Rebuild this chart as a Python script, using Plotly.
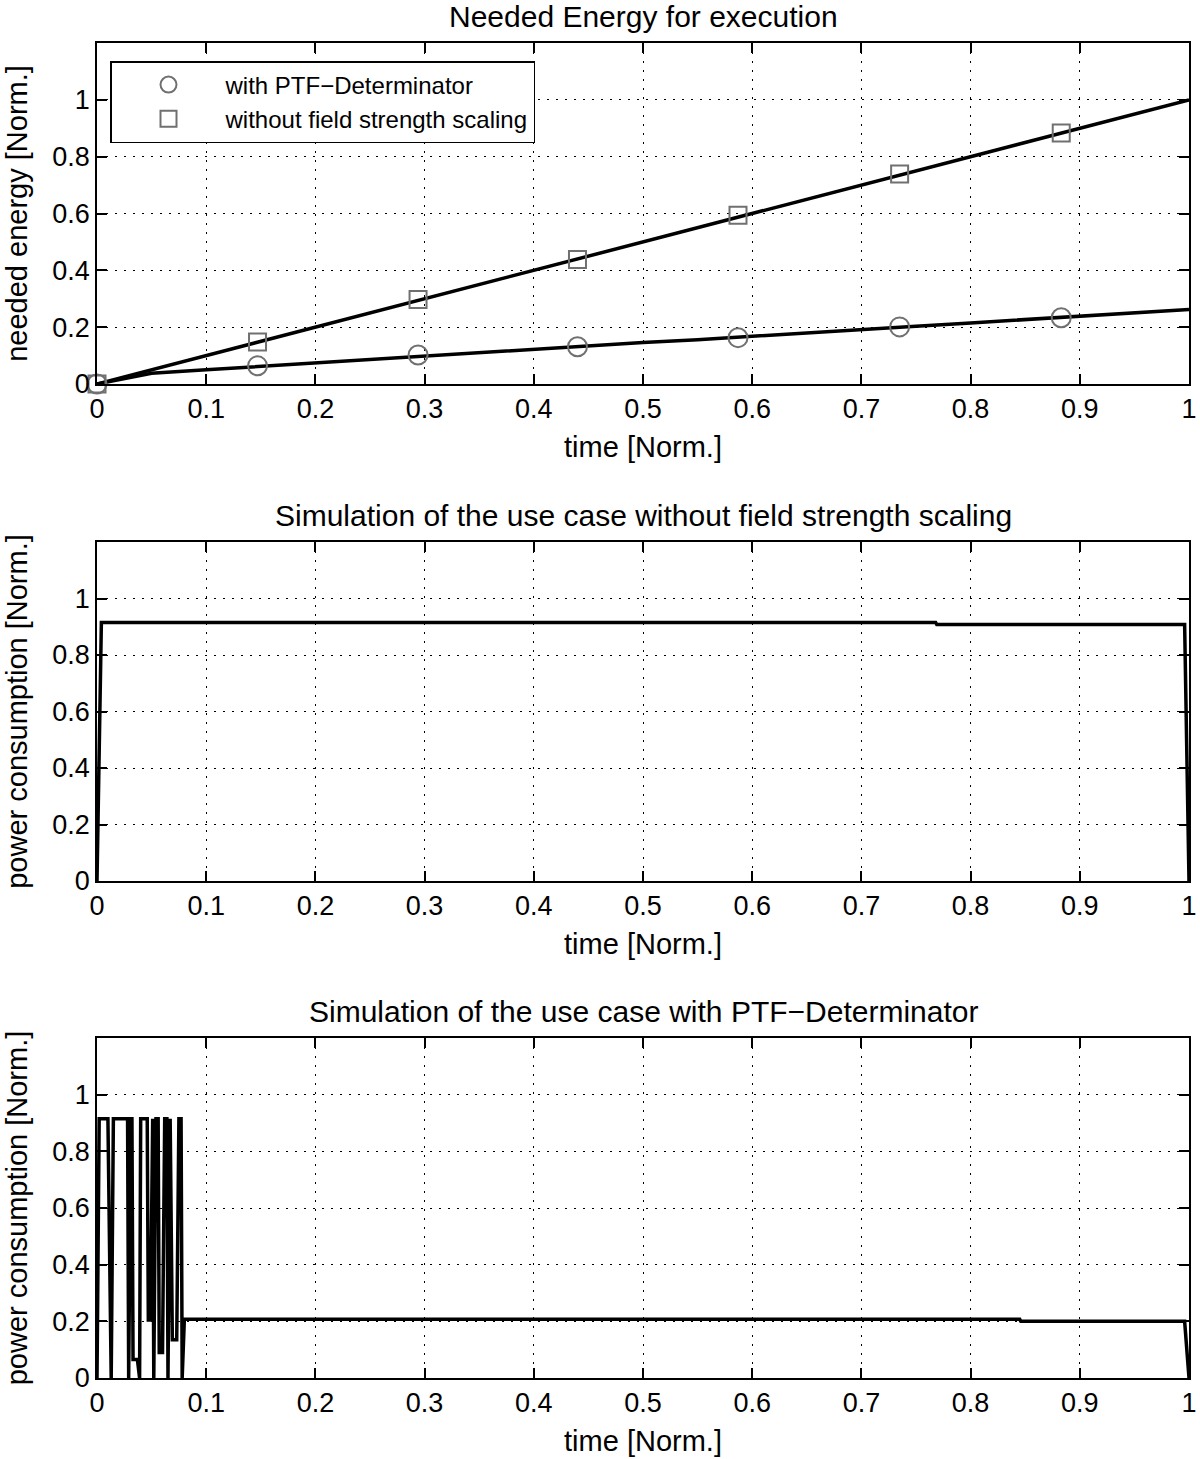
import plotly.graph_objects as go

# ---------------- Panel 1: needed energy ----------------
energy_time = [0, 0.05, 0.1, 0.15, 0.2, 0.25, 0.3, 0.35, 0.4, 0.45, 0.5,
               0.55, 0.6, 0.65, 0.7, 0.75, 0.8, 0.85, 0.9, 0.95, 1.0]
energy_with = [0, 0.038, 0.05, 0.062, 0.074, 0.088, 0.10, 0.112, 0.124, 0.135, 0.146,
               0.156, 0.167, 0.178, 0.19, 0.203, 0.215, 0.227, 0.238, 0.25, 0.262]
energy_without = [0, 0.05, 0.1, 0.15, 0.2, 0.25, 0.3, 0.35, 0.4, 0.45, 0.5,
                  0.55, 0.6, 0.65, 0.7, 0.75, 0.8, 0.85, 0.9, 0.95, 1.0]

marker_time = [0, 0.147, 0.294, 0.44, 0.587, 0.735, 0.883]
marker_with = [0, 0.064, 0.102, 0.131, 0.163, 0.201, 0.233]
marker_without = [0, 0.148, 0.297, 0.438, 0.594, 0.739, 0.883]

# ---------------- Panel 2: without field strength scaling ----------------
power_no_time = [0, 0.004, 0.768, 0.769, 0.996, 1.0]
power_no = [0, 0.915, 0.915, 0.908, 0.908, 0]

# ---------------- Panel 3: with PTF-Determinator ----------------
power_ptf_time = [0, 0.002, 0.010, 0.013, 0.015, 0.028, 0.029, 0.031, 0.032, 0.033,
                  0.037, 0.039, 0.040, 0.046, 0.047, 0.049, 0.051, 0.052, 0.054, 0.056,
                  0.057, 0.060, 0.062, 0.064, 0.065, 0.067, 0.069, 0.073, 0.075, 0.077,
                  0.078, 0.080, 0.845, 0.846, 0.996, 1.0]
power_ptf = [0, 0.915, 0.915, 0, 0.915, 0.915, 0, 0.915, 0.915, 0.065,
             0.065, 0, 0.915, 0.915, 0.205, 0.205, 0.915, 0, 0.915, 0.915,
             0.09, 0.09, 0.915, 0.915, 0, 0.915, 0.135, 0.135, 0.915, 0.915,
             0, 0.207, 0.207, 0.200, 0.200, 0]

x_ticks = [0, 0.1, 0.2, 0.3, 0.4, 0.5, 0.6, 0.7, 0.8, 0.9, 1]
x_tick_text = ["0", "0.1", "0.2", "0.3", "0.4", "0.5", "0.6", "0.7", "0.8", "0.9", "1"]
y_ticks = [0, 0.2, 0.4, 0.6, 0.8, 1]
y_tick_text = ["0", "0.2", "0.4", "0.6", "0.8", "1"]

titles = ["Needed Energy for execution",
          "Simulation of the use case without field strength scaling",
          "Simulation of the use case with PTF\u2212Determinator"]
y_titles = ["needed energy [Norm.]", "power consumption [Norm.]", "power consumption [Norm.]"]
x_title = "time [Norm.]"

FONT = "Liberation Sans, Arial, Helvetica, sans-serif"
GRAY = "#707070"
LW = 3.5

fig = go.Figure()

# panel 1
fig.add_trace(go.Scatter(x=energy_time, y=energy_without, mode="lines",
                         line=dict(color="black", width=LW), showlegend=False,
                         xaxis="x", yaxis="y"))
fig.add_trace(go.Scatter(x=energy_time, y=energy_with, mode="lines",
                         line=dict(color="black", width=LW), showlegend=False,
                         xaxis="x", yaxis="y"))
fig.add_trace(go.Scatter(x=marker_time, y=marker_with, mode="markers",
                         name="with PTF\u2212Determinator",
                         marker=dict(symbol="circle-open", size=19, color=GRAY,
                                     line=dict(width=2, color=GRAY)),
                         xaxis="x", yaxis="y", cliponaxis=False))
fig.add_trace(go.Scatter(x=marker_time, y=marker_without, mode="markers",
                         name="without field strength scaling",
                         marker=dict(symbol="square-open", size=17, color=GRAY,
                                     line=dict(width=2, color=GRAY)),
                         xaxis="x", yaxis="y", cliponaxis=False))

# panel 2
fig.add_trace(go.Scatter(x=power_no_time, y=power_no, mode="lines",
                         line=dict(color="black", width=LW), showlegend=False,
                         xaxis="x2", yaxis="y2"))
# panel 3
fig.add_trace(go.Scatter(x=power_ptf_time, y=power_ptf, mode="lines",
                         line=dict(color="black", width=LW), showlegend=False,
                         xaxis="x3", yaxis="y3"))

W, H = 1200, 1459
L, R, T, B = 97, W - 1189, 43, H - 1378
plot_h = H - T - B
plot_w = W - L - R
def py(pix):
    return (H - B - pix) / plot_h
def px(pix):
    return (pix - L) / plot_w

domains = [(py(384), py(43)), (py(881), py(542)), (py(1378), py(1038))]

xax = dict(range=[0, 1], tickvals=x_ticks, ticktext=x_tick_text, ticks="inside", ticklen=10,
           tickwidth=1.5, tickcolor="black", mirror="allticks", showline=True,
           linecolor="black", linewidth=1.5, showgrid=True, gridcolor="black",
           griddash="2px,7px", gridwidth=1.2, zeroline=False, automargin=False,
           tickfont=dict(size=27, color="black", family=FONT),
           title=dict(text=x_title, font=dict(size=29, color="black", family=FONT), standoff=14))
yax = dict(range=[0, 1.2], tickvals=y_ticks, ticktext=y_tick_text, ticks="inside", ticklen=10,
           tickwidth=1.5, tickcolor="black", mirror="allticks", showline=True,
           linecolor="black", linewidth=1.5, showgrid=True, gridcolor="black",
           griddash="2px,7px", gridwidth=1.2, zeroline=False, automargin=False,
           tickfont=dict(size=27, color="black", family=FONT))

layout = dict(width=W, height=H, margin=dict(l=L, r=R, t=T, b=B, autoexpand=False),
              paper_bgcolor="white", plot_bgcolor="white",
              font=dict(family=FONT, color="black"),
              legend=dict(x=px(110), y=py(61), xanchor="left", yanchor="top",
                          bgcolor="white", bordercolor="black", borderwidth=1.5,
                          font=dict(size=24, color="black", family=FONT),
                          itemwidth=104, tracegroupgap=4),
              annotations=[])

for i in range(3):
    suffix = "" if i == 0 else str(i + 1)
    xa = dict(xax)
    xa["anchor"] = "y" + suffix
    ya = dict(yax)
    ya["anchor"] = "x" + suffix
    ya["domain"] = list(domains[i])
    ya["title"] = dict(text=y_titles[i], font=dict(size=29, color="black", family=FONT), standoff=16)
    layout["xaxis" + suffix] = xa
    layout["yaxis" + suffix] = ya
    layout["annotations"].append(dict(
        text=titles[i], x=0.5, xref="paper", y=domains[i][1], yref="paper",
        xanchor="center", yanchor="bottom", yshift=8, showarrow=False,
        font=dict(size=30, color="black", family=FONT)))

fig.update_layout(**layout)
fig.write_html("out.html", config={"displayModeBar": False},
               post_script="document.body.style.margin='0';document.body.style.overflow='hidden';")
